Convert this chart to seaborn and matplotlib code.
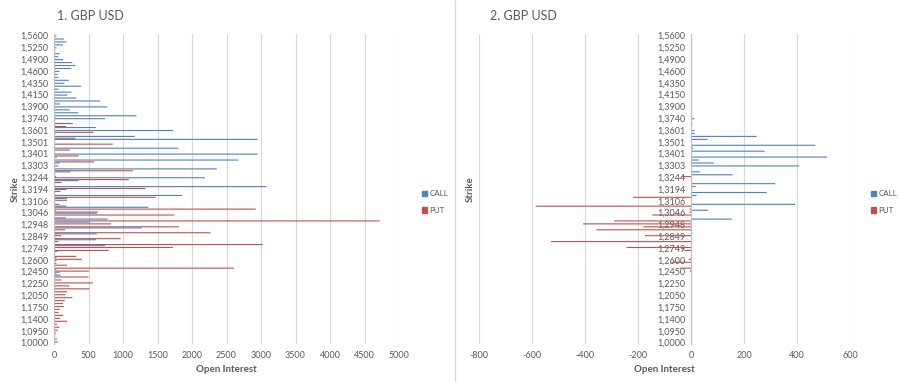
import pandas as pd
import seaborn as sns
import matplotlib.pyplot as plt
from matplotlib.patches import Patch
from matplotlib.lines import Line2D

# Strikes, bottom (1,0000) to top (1,5600); every 4th one is labelled
strikes = [
    1.0000, 1.0500, 1.0750, 1.0900, 1.0950, 1.1000, 1.1150, 1.1250,
    1.1400, 1.1500, 1.1600, 1.1700, 1.1750, 1.1800, 1.1900, 1.2000,
    1.2050, 1.2100, 1.2150, 1.2200, 1.2250, 1.2300, 1.2350, 1.2400,
    1.2450, 1.2500, 1.2550, 1.2575, 1.2600, 1.2650, 1.2700, 1.2725,
    1.2749, 1.2750, 1.2800, 1.2825, 1.2849, 1.2850, 1.2900, 1.2925,
    1.2948, 1.2950, 1.3000, 1.3025, 1.3046, 1.3050, 1.3075, 1.3100,
    1.3106, 1.3125, 1.3150, 1.3175, 1.3194, 1.3200, 1.3225, 1.3240,
    1.3244, 1.3250, 1.3275, 1.3300, 1.3303, 1.3325, 1.3350, 1.3400,
    1.3401, 1.3425, 1.3450, 1.3500, 1.3501, 1.3525, 1.3550, 1.3600,
    1.3601, 1.3625, 1.3650, 1.3700, 1.3740, 1.3750, 1.3800, 1.3850,
    1.3900, 1.3950, 1.4000, 1.4100, 1.4150, 1.4200, 1.4250, 1.4300,
    1.4350, 1.4400, 1.4450, 1.4500, 1.4600, 1.4650, 1.4700, 1.4800,
    1.4900, 1.5000, 1.5100, 1.5200, 1.5250, 1.5300, 1.5400, 1.5500,
    1.5600]
strike_labels = [f"{s:.4f}".replace('.', ',') for s in strikes]

# 1. GBP USD open interest (same order as strikes)
call_1 = [
    0, 0, 0, 0, 0, 0, 0, 0, 0, 0,
    0, 0, 0, 0, 0, 0, 0, 0, 0, 17,
    0, 0, 0, 93, 79, 36, 0, 36, 36, 36,
    15, 45, 17, 740, 0, 606, 0, 620, 0, 1272,
    0, 525, 778, 0, 620, 31, 1368, 79, 0, 189,
    1856, 0, 180, 3077, 15, 352, 2186, 17, 237, 2359,
    65, 79, 2670, 45, 2953, 0, 1803, 0, 15, 2953,
    1171, 20, 1727, 606, 0, 10, 740, 1195, 352, 228,
    774, 89, 668, 323, 194, 251, 65, 395, 150, 218,
    65, 55, 79, 251, 309, 266, 130, 60, 80, 17,
    36, 130, 180, 146, 36]
put_1 = [
    55, 45, 12, 31, 55, 79, 45, 189, 89, 136,
    67, 84, 141, 130, 156, 266, 165, 189, 515, 223,
    563, 108, 500, 36, 505, 2608, 189, 18, 405, 323,
    0, 793, 1722, 3025, 65, 965, 103, 2268, 165, 1813,
    826, 4720, 175, 1746, 635, 2924, 180, 0, 189, 1473,
    0, 93, 1324, 0, 108, 1085, 31, 0, 1142, 0,
    0, 582, 0, 357, 0, 228, 0, 850, 0, 309,
    0, 572, 0, 175, 275, 0, 17, 0, 0, 0,
    0, 17, 0, 0, 0, 0, 0, 0, 0, 0,
    0, 0, 0, 0, 0, 0, 0, 0, 0, 0,
    0, 0, 0, 0, 0]

# 2. GBP USD
call_2 = [
    0, 0, 0, 0, 0, 0, 0, 0, 0, 0,
    0, 0, 0, 0, 0, 0, 0, 0, 0, 0,
    0, 0, 0, 0, 0, 0, 0, 0, 0, 0,
    0, 0, 0, 0, 0, 0, 0, 5, 0, 0,
    0, 0, 154, 0, 0, 65, 0, 393, 0, 0,
    21, 286, 0, 18, 318, 0, 0, 157, 34, 0,
    408, 86, 30, 513, 0, 278, 9, 469, 0, 63,
    248, 15, 13, 0, 5, 0, 13, 0, 0, 0,
    0, 0, 0, 0, 0, 0, 0, 0, 0, 0,
    0, 0, 0, 0, 0, 0, 0, 0, 0, 0,
    0, 0, 0, 0, 0]
put_2 = [
    0, 0, 0, 0, 0, 0, 0, 0, 0, 0,
    0, 0, 0, 0, 0, 0, 0, 0, 0, 0,
    0, 0, 0, 0, -4, -42, 0, -74, -9, 0,
    0, -25, -243, 0, -528, 0, -174, 0, -357, -180,
    -407, -290, 0, -146, -6, -6, -586, 0, 0, -218,
    0, 0, 0, 0, 0, 0, -35, 0, 0, 0,
    0, 0, 0, 0, 0, 0, 0, 0, 0, 0,
    0, 0, 0, 0, 0, 0, 0, 0, 0, 0,
    0, 0, 0, 0, 0, 0, 0, 0, 0, 0,
    0, 0, 0, 0, 0, 0, 0, 0, 0, 0,
    0, 0, 0, 0, 0]

x_ticks_1 = list(range(0, 5001, 500))
x_ticks_2 = list(range(-800, 601, 200))

BLUE = '#4F81BD'
RED = '#C0504D'
GREY = '#595959'
GRID = '#D9D9D9'

sns.set_theme(style='white')
plt.rcParams['font.family'] = ['Lato', 'DejaVu Sans']


def make_frame(call, put):
    df = pd.DataFrame({'Strike': strike_labels, 'CALL': call, 'PUT': put})
    return df.melt(id_vars='Strike', var_name='type', value_name='oi')


def draw_panel(ax, call, put, xticks):
    order = strike_labels[::-1]  # top to bottom
    sns.barplot(data=make_frame(call, put), x='oi', y='Strike', hue='type',
                order=order, hue_order=['PUT', 'CALL'],
                palette={'CALL': BLUE, 'PUT': RED}, orient='h', width=0.75,
                saturation=1, errorbar=None, linewidth=0, legend=False, ax=ax)
    # thin bars: no pixel snapping so they all look alike
    for p in ax.patches:
        p.set_snap(False)
    ax.set_xlim(xticks[0], xticks[-1])
    ax.set_xticks(xticks)
    ax.set_xticklabels([str(t) for t in xticks])
    ax.set_yticks(range(0, len(order), 4))
    ax.set_yticklabels(order[::4])
    ax.tick_params(axis='both', length=0, labelsize=6.5, colors=GREY)
    ax.tick_params(axis='y', pad=4)
    ax.tick_params(axis='x', pad=5)
    ax.grid(axis='x', color=GRID, linewidth=0.9)
    ax.set_axisbelow(True)
    for side in ['top', 'right', 'bottom']:
        ax.spines[side].set_visible(False)
    ax.spines['left'].set_position(('data', 0))
    ax.spines['left'].set_color('#BFBFBF')
    ax.spines['left'].set_linewidth(0.8)
    ax.set_xlabel('Open Interest', fontsize=7, fontweight='bold', color=GREY, labelpad=4)
    ax.set_ylabel('Strike', fontsize=7, fontweight='bold', color=GREY)


fig = plt.figure(figsize=(9, 3.82), dpi=100)
ax1 = fig.add_axes([54 / 900, 1 - 344 / 382, 345 / 900, 310 / 382])
ax2 = fig.add_axes([479 / 900, 1 - 344 / 382, 371 / 900, 310 / 382])

draw_panel(ax1, call_1, put_1, x_ticks_1)
draw_panel(ax2, call_2, put_2, x_ticks_2)
ax1.yaxis.set_label_coords(-0.10, 0.5)
ax2.yaxis.set_label_coords(-0.012, 0.5)

fig.text(57 / 900, 1 - 16 / 382, '1. GBP USD', fontsize=9, color=GREY, va='center')
fig.text(490 / 900, 1 - 16 / 382, '2. GBP USD', fontsize=9, color=GREY, va='center')

handles = [Patch(color=BLUE, label='CALL'), Patch(color=RED, label='PUT')]
for lx in (422 / 900, 871 / 900):
    fig.legend(handles=handles, loc='center left', bbox_to_anchor=(lx, 1 - 202 / 382),
               frameon=False, fontsize=5.8, labelcolor=GREY, handlelength=0.6,
               handleheight=0.6, handletextpad=0.35, labelspacing=1.2,
               borderpad=0, borderaxespad=0)

fig.add_artist(Line2D([455 / 900, 455 / 900], [0, 1], transform=fig.transFigure,
                      color=GRID, linewidth=1))

fig.savefig('out.png', dpi=100)
